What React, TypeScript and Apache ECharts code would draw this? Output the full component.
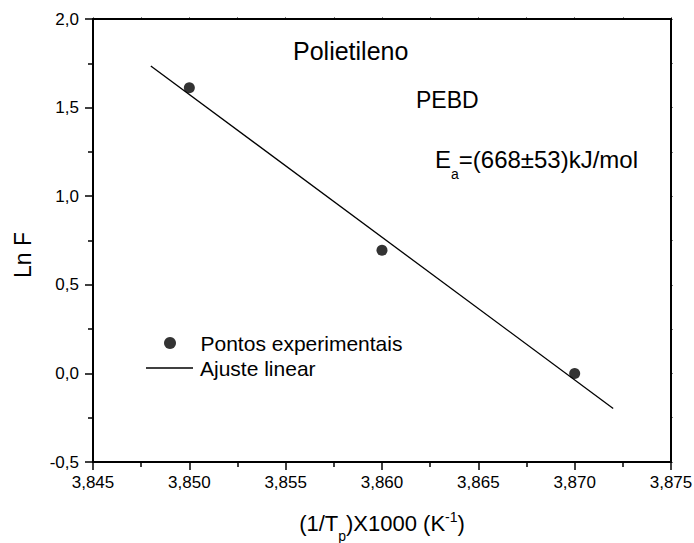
import React, { useEffect, useRef } from "react";
import * as echarts from "echarts";

const pointsX = [3.85, 3.86, 3.87];
const pointsY = [1.612, 0.695, 0.0];
const fitX = [3.848, 3.872];
const fitY = [1.735, -0.198];
const xTicks = { min: 3.845, max: 3.875, interval: 0.005 };
const yTicks = { min: -0.5, max: 2.0, interval: 0.5 };
const seriesNames = ["Pontos experimentais", "Ajuste linear"];

const FONT = "Liberation Sans, Arial, sans-serif";

export default function App() {
  const ref = useRef<HTMLDivElement>(null);
  useEffect(() => {
    document.body.style.margin = "0";
    if (!ref.current) return;
    const chart = echarts.init(ref.current, null, { renderer: "svg" });
    const mkLine = () => ({ show: true, onZero: false, lineStyle: { color: "#000", width: 2 } });
    const mkText = () => ({ fontSize: 21, lineHeight: 22, fontFamily: FONT, color: "#000", padding: [0, 0, 0, 2] });
    chart.setOption({
      animation: false,
      backgroundColor: "#fff",
      textStyle: { fontFamily: FONT },
      grid: { left: 93, right: 23, top: 19, bottom: 81, containLabel: false, outerBoundsMode: "none" },
      xAxis: [
        {
          type: "value",
          min: xTicks.min,
          max: xTicks.max,
          interval: xTicks.interval,
          position: "bottom",
          axisLine: mkLine(),
          axisTick: { show: true, inside: false, length: 8, lineStyle: { color: "#000", width: 1.5 } },
          minorTick: { show: true, splitNumber: 2, length: 5, lineStyle: { color: "#000", width: 1.5 } },
          splitLine: { show: false },
          axisLabel: {
            color: "#000",
            fontSize: 17,
            fontFamily: FONT,
            margin: 12,
            formatter: (v: number) => v.toFixed(3).replace(".", ","),
          },
          name: "{n|(1/T}{sub|p}{n|)X1000 (K}{sup|-1}{n|)}",
          nameLocation: "middle",
          nameGap: 48,
          nameTextStyle: {
            color: "#000",
            fontFamily: FONT,
            rich: {
              n: { fontSize: 22, fontFamily: FONT, color: "#000", lineHeight: 26 },
              sub: { fontSize: 14, fontFamily: FONT, color: "#000", lineHeight: 26, padding: [26, 0, 0, 0] },
              sup: { fontSize: 14, fontFamily: FONT, color: "#000", lineHeight: 26, padding: [0, 0, 13, 0] },
            },
          },
        },
        {
          type: "value",
          min: xTicks.min,
          max: xTicks.max,
          interval: xTicks.interval,
          position: "top",
          axisLine: mkLine(),
          axisTick: { show: true, inside: false, length: 1.5, lineStyle: { color: "#000" } },
          minorTick: { show: true, splitNumber: 2, length: 1.5, lineStyle: { color: "#000" } },
          splitLine: { show: false },
          axisLabel: { show: false },
        },
      ],
      yAxis: [
        {
          type: "value",
          min: yTicks.min,
          max: yTicks.max,
          interval: yTicks.interval,
          position: "left",
          axisLine: mkLine(),
          axisTick: { show: true, inside: false, length: 8, lineStyle: { color: "#000", width: 1.5 } },
          minorTick: { show: true, splitNumber: 2, length: 5, lineStyle: { color: "#000", width: 1.5 } },
          splitLine: { show: false },
          axisLabel: {
            color: "#000",
            fontSize: 17,
            fontFamily: FONT,
            margin: 14,
            formatter: (v: number) => v.toFixed(1).replace(".", ","),
          },
        },
        {
          type: "value",
          min: yTicks.min,
          max: yTicks.max,
          interval: yTicks.interval,
          position: "right",
          axisLine: mkLine(),
          axisTick: { show: true, inside: false, length: 1.5, lineStyle: { color: "#000" } },
          minorTick: { show: true, splitNumber: 2, length: 1.5, lineStyle: { color: "#000" } },
          splitLine: { show: false },
          axisLabel: { show: false },
        },
      ],
      legend: [
        {
          left: 164,
          top: 332,
          padding: 0,
          orient: "vertical",
          itemWidth: 47,
          itemHeight: 12,
          textStyle: mkText(),
          data: [{ name: seriesNames[0], icon: "circle" }],
        },
        {
          left: 146,
          top: 357,
          padding: 0,
          orient: "vertical",
          itemWidth: 47,
          itemHeight: 1.3,
          textStyle: mkText(),
          data: [{ name: seriesNames[1], icon: "rect" }],
        },
      ],
      series: [
        {
          name: seriesNames[0],
          type: "scatter",
          symbol: "circle",
          symbolSize: 11,
          itemStyle: { color: "#000" },
          data: pointsX.map((x, i) => [x, pointsY[i]]),
          z: 3,
        },
        {
          name: seriesNames[1],
          type: "line",
          symbol: "none",
          lineStyle: { color: "#000", width: 1.3 },
          itemStyle: { color: "#000" },
          data: fitX.map((x, i) => [x, fitY[i]]),
          z: 2,
        },
      ],
      graphic: [
        {
          type: "text",
          x: 293,
          y: 51,
          style: { text: "Polietileno", fontSize: 25, fontFamily: FONT, fill: "#000", verticalAlign: "middle" },
        },
        {
          type: "text",
          x: 416,
          y: 100,
          style: { text: "PEBD", fontSize: 23, fontFamily: FONT, fill: "#000", verticalAlign: "middle" },
        },
        {
          type: "text",
          x: 435,
          y: 146,
          style: {
            text: "{n|E}{sub|a}{n|=(668±53)kJ/mol}",
            fontFamily: FONT,
            fill: "#000",
            rich: {
              n: { fontSize: 24, fontFamily: FONT, fill: "#000", lineHeight: 26 },
              sub: { fontSize: 14, fontFamily: FONT, fill: "#000", lineHeight: 26, padding: [29, 0, 0, 0] },
            },
          },
        },
        {
          type: "text",
          x: 23,
          y: 255,
          rotation: Math.PI / 2,
          style: {
            text: "Ln F",
            fontSize: 23,
            fontFamily: FONT,
            fill: "#000",
            align: "center",
            verticalAlign: "middle",
          },
        },
      ],
    });
    return () => chart.dispose();
  }, []);
  return <div ref={ref} style={{ width: 694, height: 543 }} />;
}
